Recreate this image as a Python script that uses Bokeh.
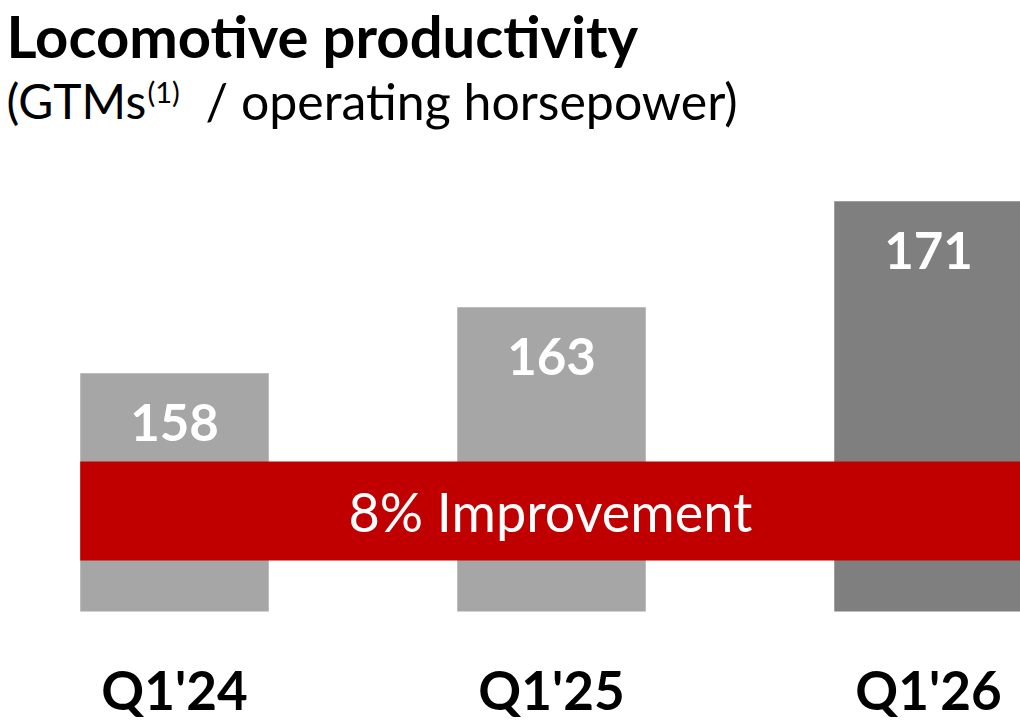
from bokeh.plotting import figure
from bokeh.models import ColumnDataSource, BoxAnnotation, Label
from bokeh.core.properties import value
from bokeh.embed import file_html
from bokeh.resources import INLINE

# ---- data ----
categories = ["Q1'24", "Q1'25", "Q1'26"]
values = [158, 163, 171]
bar_colors = ["#A6A6A6", "#A6A6A6", "#7F7F7F"]
title_text = "Locomotive productivity"
subtitle_main = "(GTMs"
subtitle_sup = "(1)"
subtitle_rest = "/ operating horsepower)"

improvement = round((values[-1] - values[0]) / values[0] * 100)
band_text = f"{improvement}% Improvement"

# ---- style / layout ----
FONT = "Lato"
W, H = 1020, 721
BASE_PX = 611          # pixel row of the value-axis baseline
Y0 = 140.0             # value-axis start
PX_PER_UNIT = 13.23
SLOT_PX = 377
X0 = -174 / SLOT_PX
X1 = X0 + W / SLOT_PX
BAR_W = 0.5
BAND_BOTTOM = Y0 + (BASE_PX - 560) / PX_PER_UNIT
BAND_TOP = Y0 + (BASE_PX - 461) / PX_PER_UNIT

xs = list(range(len(categories)))
src = ColumnDataSource(dict(x=xs, top=values, color=bar_colors,
                            label=[str(v) for v in values], cat=categories,
                            base=[Y0] * len(xs)))

p = figure(width=W, height=H, output_backend="svg", toolbar_location=None,
           x_range=(X0, X1),
           y_range=(Y0 - (H - BASE_PX) / PX_PER_UNIT, Y0 + BASE_PX / PX_PER_UNIT),
           min_border=0)
p.outline_line_color = None
p.grid.visible = False
p.axis.visible = False
p.background_fill_color = "white"
p.border_fill_color = "white"

p.vbar(x="x", top="top", bottom=Y0, width=BAR_W, color="color", line_color=None, source=src)

p.text(x="x", y="top", text="label", source=src, text_color="white",
       text_font=value(FONT), text_font_style="bold", text_font_size="51px",
       text_align="center", text_baseline="middle", y_offset=49)

p.text(x="x", y="base", text="cat", source=src, text_color="black",
       text_font=value(FONT), text_font_style="bold", text_font_size="53px",
       text_align="center", text_baseline="middle", y_offset=78)

band = BoxAnnotation(left=xs[0] - BAR_W / 2, right=X1, bottom=BAND_BOTTOM, top=BAND_TOP,
                     fill_color="#C00000", fill_alpha=1.0, line_color=None, level="overlay")
p.add_layout(band)
p.add_layout(Label(x=(xs[0] - BAR_W / 2 + X1) / 2, y=(BAND_BOTTOM + BAND_TOP) / 2,
                   text=band_text, text_color="white", text_font=FONT,
                   text_font_size="54px", text_align="center", text_baseline="middle",
                   level="overlay"))

p.add_layout(Label(x=6, y=H - 35, x_units="screen", y_units="screen",
                   text=title_text, text_font=FONT, text_font_style="bold",
                   text_font_size="58px", text_color="black", text_baseline="middle"))
p.add_layout(Label(x=6, y=H - 100, x_units="screen", y_units="screen",
                   text=subtitle_main, text_font=FONT, text_font_size="48px",
                   text_color="black", text_baseline="middle"))
p.add_layout(Label(x=147, y=H - 91, x_units="screen", y_units="screen",
                   text=subtitle_sup, text_font=FONT, text_font_size="29px",
                   text_color="black", text_baseline="middle"))
p.add_layout(Label(x=205, y=H - 100, x_units="screen", y_units="screen",
                   text=subtitle_rest, text_font=FONT, text_font_size="50px",
                   text_color="black", text_baseline="middle"))

open("out.html", "w").write(file_html(p, INLINE))
